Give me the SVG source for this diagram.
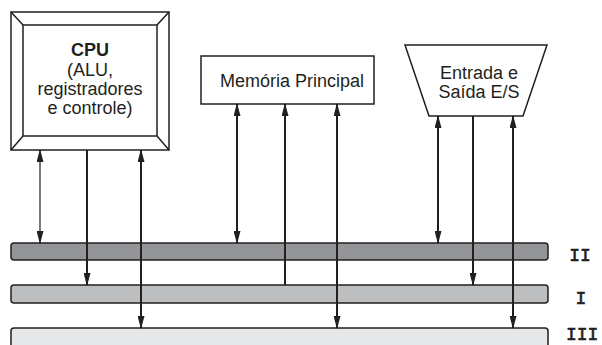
<svg xmlns="http://www.w3.org/2000/svg" width="602" height="345" viewBox="0 0 602 345">
<style>
.box{fill:#fff;stroke:#231f20;stroke-width:1.5}
.t{font-family:"Liberation Sans",Arial,sans-serif;font-size:18px;fill:#231f20;text-anchor:middle}
.b{font-weight:bold}
.bus{stroke:#231f20;stroke-width:1.5}
.lbl{font-family:"Liberation Mono","Courier New",monospace;font-size:18px;fill:#231f20;stroke:#231f20;stroke-width:0.6}
.c{stroke:#231f20;stroke-width:2;fill:none}
.thin{stroke-width:1.2}
</style>
<defs>
<marker id="ah" markerUnits="userSpaceOnUse" markerWidth="13" markerHeight="7" refX="12" refY="3.5" orient="auto-start-reverse">
<path d="M0,0 L13,3.5 L0,7 z" fill="#231f20"/>
</marker>
</defs>
<g id="bus-III"><rect class="bus" x="11" y="328" width="537" height="24" rx="3" fill="#e6e7e8"/><text class="lbl" x="566" y="340">III</text></g>
<g id="bus-I"><rect class="bus" x="11" y="285" width="537" height="18" rx="3" fill="#bcbec0"/><text class="lbl" x="581" y="304" text-anchor="middle">I</text></g>
<g id="bus-II"><rect class="bus" x="11" y="243" width="537" height="17" rx="3" fill="#939598"/><text class="lbl" x="580" y="261" text-anchor="middle">II</text></g>
<g id="cpu">
<rect class="box" x="11" y="12" width="158" height="138"/>
<rect class="box" x="23" y="25" width="134" height="111"/>
<path class="box" d="M11,12 L23,25 M169,12 L157,25 M11,150 L23,136 M169,150 L157,136"/>
<text class="t b" x="90" y="56">CPU</text>
<text class="t" x="90" y="76">(ALU,</text>
<text class="t" x="90" y="95">registradores</text>
<text class="t" x="90" y="114">e controle)</text>
</g>
<g id="memoria">
<rect class="box" x="201" y="56" width="173" height="48"/>
<text class="t" x="292" y="87">Memória Principal</text>
</g>
<g id="es">
<path class="box" d="M405,45 L547,45 L523,116 L429,116 z"/>
<text class="t" x="479" y="79">Entrada e</text>
<text class="t" x="479" y="98">Saída E/S</text>
</g>
<g id="connectors">
<line class="c thin" x1="40" y1="150" x2="40" y2="243" marker-start="url(#ah)" marker-end="url(#ah)"/>
<line class="c" x1="87" y1="150" x2="87" y2="285" marker-end="url(#ah)"/>
<line class="c" x1="141" y1="150" x2="141" y2="328" marker-start="url(#ah)" marker-end="url(#ah)"/>
<line class="c" x1="237" y1="104" x2="237" y2="243" marker-start="url(#ah)" marker-end="url(#ah)"/>
<line class="c" x1="285" y1="285" x2="285" y2="104" marker-end="url(#ah)"/>
<line class="c" x1="337" y1="104" x2="337" y2="328" marker-start="url(#ah)" marker-end="url(#ah)"/>
<line class="c" x1="438" y1="116" x2="438" y2="243" marker-start="url(#ah)" marker-end="url(#ah)"/>
<line class="c" x1="473" y1="116" x2="473" y2="285" marker-end="url(#ah)"/>
<line class="c" x1="513" y1="116" x2="513" y2="328" marker-start="url(#ah)" marker-end="url(#ah)"/>
</g>
</svg>
